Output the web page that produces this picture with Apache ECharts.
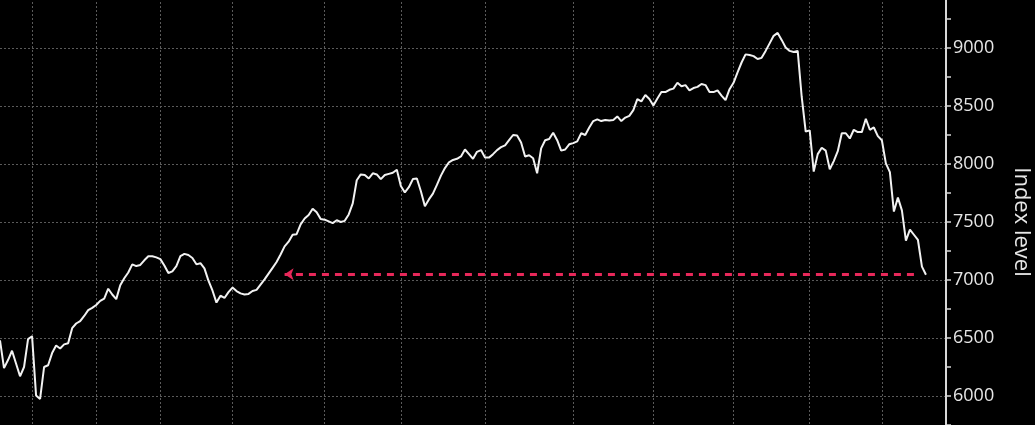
<!DOCTYPE html>
<html>
<head>
<meta charset="utf-8">
<script src="https://cdn.jsdelivr.net/npm/echarts@6/dist/echarts.min.js"></script>
<style>
  html, body { margin: 0; padding: 0; background: #000; }
  #chart { width: 1035px; height: 425px; }
</style>
</head>
<body>
<div id="chart"></div>
<script>
// trading days shown on the x axis (labels hidden), a few empty days pad the right side
var days = Array.from({length: 237}, function (_, i) { return 'd' + i; });

// first trading day of each month -> vertical grid lines
var monthStarts = [8, 24, 40, 58, 81, 100, 121, 143, 163, 183, 202, 220];

// index level, one value per trading day
var levels = [
  6480, 6240, 6310, 6390, 6280, 6170, 6250, 6490, 6515, 6005,
  5975, 6250, 6265, 6370, 6435, 6410, 6445, 6455, 6585, 6625,
  6645, 6690, 6740, 6760, 6785, 6820, 6840, 6925, 6875, 6835,
  6955, 7015, 7065, 7135, 7120, 7130, 7170, 7205, 7205, 7195,
  7180, 7125, 7060, 7075, 7120, 7205, 7225, 7215, 7190, 7135,
  7145, 7100, 6995, 6910, 6805, 6865, 6845, 6895, 6935, 6905,
  6885, 6875, 6880, 6905, 6915, 6960, 7005, 7055, 7105, 7155,
  7220, 7290, 7330, 7390, 7395, 7480, 7530, 7560, 7615, 7585,
  7525, 7520, 7505, 7490, 7515, 7500, 7510, 7565, 7660, 7860,
  7910, 7905, 7875, 7920, 7910, 7870, 7905, 7915, 7925, 7950,
  7810, 7755, 7800, 7870, 7875, 7765, 7635, 7695, 7745, 7820,
  7900, 7965, 8015, 8035, 8045, 8065, 8125, 8085, 8045, 8105,
  8120, 8055, 8055, 8085, 8120, 8145, 8160, 8205, 8250, 8245,
  8185, 8065, 8075, 8050, 7920, 8135, 8205, 8215, 8270, 8205,
  8115, 8125, 8170, 8180, 8195, 8265, 8250, 8315, 8370, 8385,
  8370, 8380, 8375, 8380, 8410, 8370, 8400, 8415, 8465, 8560,
  8540, 8595, 8560, 8505, 8565, 8620, 8620, 8640, 8650, 8700,
  8670, 8680, 8635, 8655, 8665, 8690, 8680, 8620, 8620, 8635,
  8590, 8550, 8645, 8700, 8790, 8875, 8945, 8940, 8930, 8905,
  8915, 8975, 9040, 9105, 9130, 9070, 9005, 8975, 8965, 8975,
  8580, 8280, 8290, 7935, 8085, 8140, 8115, 7955, 8025, 8110,
  8265, 8265, 8220, 8295, 8275, 8275, 8390, 8295, 8315, 8240,
  8205, 8005, 7930, 7590, 7710, 7600, 7340, 7435, 7390, 7345,
  7115, 7045
];

// dashed arrow back to the day the index was last at this level
var refLevel = 7050;
var refFrom = 228;
var refTo = 71;

var yTicks = {min: 5500, max: 9500, interval: 500};

var chart = echarts.init(document.getElementById('chart'));

var option = {
  backgroundColor: '#000',
  animation: false,
  grid: {
    left: 0,
    right: 89,
    top: -10,
    bottom: -29,
    outerBoundsMode: 'none',
    containLabel: false
  },
  xAxis: {
    type: 'category',
    data: days,
    boundaryGap: false,
    axisLine: {show: false},
    axisTick: {show: false},
    axisLabel: {show: false},
    splitLine: {
      show: true,
      interval: function (index) {
        return monthStarts.indexOf(index) !== -1;
      },
      lineStyle: {color: '#5a5a5a', type: [2, 2], width: 1}
    }
  },
  yAxis: {
    type: 'value',
    position: 'right',
    min: yTicks.min,
    max: yTicks.max,
    interval: yTicks.interval,
    name: 'Index level',
    nameLocation: 'middle',
    nameRotate: -90,
    nameGap: 64,
    nameTextStyle: {
      color: '#e6e6e6',
      fontSize: 22,
      fontFamily: 'Open Sans'
    },
    axisLine: {
      show: true,
      lineStyle: {color: '#d8d8d8', width: 2}
    },
    axisTick: {
      show: true,
      inside: false,
      length: 5,
      lineStyle: {color: '#d8d8d8', width: 1.5}
    },
    minorTick: {
      show: true,
      splitNumber: 2,
      length: 5,
      lineStyle: {color: '#d8d8d8', width: 1.5}
    },
    axisLabel: {
      color: '#e6e6e6',
      fontSize: 18,
      fontFamily: 'Open Sans',
      margin: 7,
      formatter: function (v) { return String(v); }
    },
    splitLine: {
      show: true,
      lineStyle: {color: '#5a5a5a', type: [2, 2], width: 1}
    }
  },
  series: [
    {
      name: 'Index',
      type: 'line',
      data: levels,
      showSymbol: false,
      symbol: 'none',
      lineStyle: {color: '#f2f2f2', width: 2},
      markLine: {
        silent: true,
        symbol: ['none', 'arrow'],
        symbolSize: [9, 9],
        label: {show: false},
        lineStyle: {color: '#e8285a', width: 3, type: [7, 6]},
        data: [[
          {coord: [days[refFrom], refLevel]},
          {coord: [days[refTo], refLevel]}
        ]]
      }
    }
  ]
};

chart.setOption(option);
</script>
</body>
</html>
